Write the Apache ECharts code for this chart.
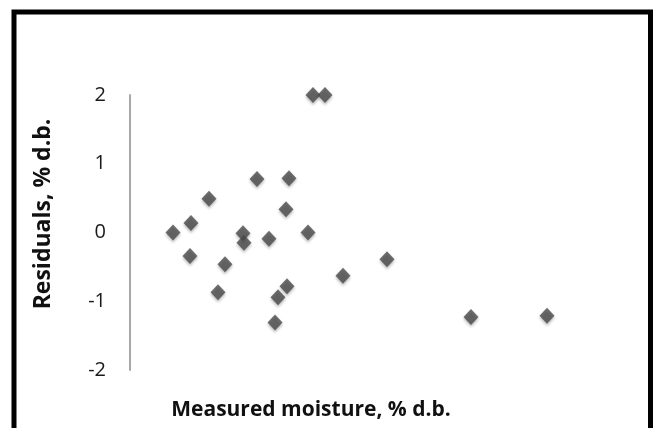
<!DOCTYPE html>
<html>
<head>
<meta charset="utf-8">
<script src="https://cdn.jsdelivr.net/npm/echarts@6/dist/echarts.min.js"></script>
<style>
html,body{margin:0;padding:0;background:#fff;}
#chart{width:657px;height:428px;}
</style>
</head>
<body>
<div id="chart"></div>
<script>
// Measured moisture (% d.b.) — x values estimated (axis has no labels)
var measuredMoisture = [4.3, 6.1, 7.9, 9.5, 8.8, 11.3, 11.4, 12.7, 13.9, 14.5, 14.8, 15.6, 15.7, 15.9, 17.8, 18.3, 19.5, 21.3, 25.7, 34.1, 41.7, 6.0];
// Residuals (% d.b.)
var residuals      = [0.0, 0.14, 0.49, -0.46, -0.87, -0.01, -0.15, 0.78, -0.09, -1.31, -0.94, 0.34, -0.78, 0.79, 0.0, 2.0, 2.0, -0.63, -0.39, -1.23, -1.21, -0.34];
var yTicks = [-2, -1, 0, 1, 2];

var points = measuredMoisture.map(function (x, i) { return [x, residuals[i]]; });

var chart = echarts.init(document.getElementById('chart'));
chart.setOption({
  animation: false,
  backgroundColor: '#ffffff',
  grid: { left: 130, right: 27, top: 95, bottom: 58 },
  xAxis: {
    type: 'value', min: 0, max: 50, show: false
  },
  yAxis: {
    type: 'value', min: yTicks[0], max: yTicks[yTicks.length - 1], interval: 1,
    axisLine: { show: true, lineStyle: { color: '#a8a8a8', width: 2 } },
    axisTick: { show: false },
    splitLine: { show: false },
    axisLabel: {
      margin: 24, color: '#1a1a1a', fontSize: 20, fontFamily: 'Open Sans',
      formatter: function (v) { return String(v); }
    }
  },
  graphic: [
    {
      type: 'rect', silent: true,
      shape: { x: 14, y: 12, width: 636.5, height: 440 },
      style: { fill: 'none', stroke: '#000', lineWidth: 5 }
    },
    {
      type: 'text', x: 43, y: 214, rotation: Math.PI / 2,
      style: {
        text: 'Residuals, % d.b.', fill: '#111',
        font: 'bold 23px "Open Sans"', align: 'center', verticalAlign: 'middle'
      }
    },
    {
      type: 'text', x: 311, y: 410,
      style: {
        text: 'Measured moisture, % d.b.', fill: '#111',
        font: 'bold 21px "Open Sans"', align: 'center', verticalAlign: 'middle'
      }
    }
  ],
  series: [{
    type: 'scatter',
    data: points,
    symbol: 'diamond',
    symbolSize: [15, 16],
    itemStyle: {
      color: '#4a4a4a',
      shadowBlur: 3, shadowColor: 'rgba(0,0,0,0.35)', shadowOffsetY: 2
    }
  }]
});
</script>
</body>
</html>
